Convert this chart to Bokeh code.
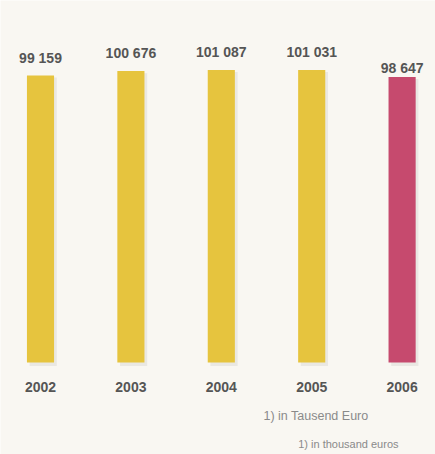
from bokeh.plotting import figure
from bokeh.models import ColumnDataSource, Range1d, Label
from bokeh.embed import file_html
from bokeh.resources import INLINE
from bokeh.core.properties import value

years = ["2002", "2003", "2004", "2005", "2006"]
amounts = [99159, 100676, 101087, 101031, 98647]
highlight = [False, False, False, False, True]
footnotes = ["1) in Tausend Euro", "1) in thousand euros"]

def fmt(v):
    return f"{v:,}".replace(",", " ")

YELLOW = "#e6c43e"
MAGENTA = "#c64a6e"
BG = "#f9f7f2"
TEXT = "#555555"
FONT = value("Liberation Sans")

xs = list(range(len(years)))
colors = [MAGENTA if h else YELLOW for h in highlight]
label_off = [-1 if h else -10 for h in highlight]

src = ColumnDataSource(dict(
    x=xs, top=amounts, color=colors, year=years,
    label=[fmt(v) for v in amounts], off=label_off,
    zero=[0] * len(xs),
))

p = figure(width=435, height=454, output_backend="svg", toolbar_location=None,
           x_range=Range1d(-0.4425, 4.3695), y_range=Range1d(-31787, 125074),
           min_border=0, background_fill_color=BG, border_fill_color=BG,
           outline_line_color=None)
p.axis.visible = False
p.grid.visible = False

# soft shadow to the right of each bar
shadow_src = ColumnDataSource(dict(x=[v + 0.03 for v in xs], top=[a - 700 for a in amounts],
                                   zero=[-1200] * len(xs)))
p.vbar(x="x", top="top", bottom="zero", width=0.30, source=shadow_src,
       fill_color="#dcdad4", fill_alpha=0.5, line_color=None)

p.vbar(x="x", top="top", bottom="zero", width=0.30, source=src,
       fill_color="color", line_color=None)

p.text(x="x", y="top", text="label", source=src, y_offset="off",
       text_align="center", text_baseline="bottom",
       text_font=FONT, text_font_style="bold",
       text_font_size="14px", text_color=TEXT)

p.text(x="x", y="zero", text="year", source=src, y_offset=25,
       text_align="center", text_baseline="middle",
       text_font=FONT, text_font_style="bold",
       text_font_size="14px", text_color=TEXT)

p.add_layout(Label(x=263, y=39, x_units="screen", y_units="screen", text=footnotes[0],
                   text_font="Liberation Sans", text_font_size="12.5px",
                   text_color="#8a8a8a", text_baseline="middle", text_align="left"))
p.add_layout(Label(x=398, y=11, x_units="screen", y_units="screen", text=footnotes[1],
                   text_font="Liberation Sans", text_font_size="11px",
                   text_color="#8a8a8a", text_baseline="middle", text_align="right"))

open("out.html", "w").write(file_html(p, INLINE))
